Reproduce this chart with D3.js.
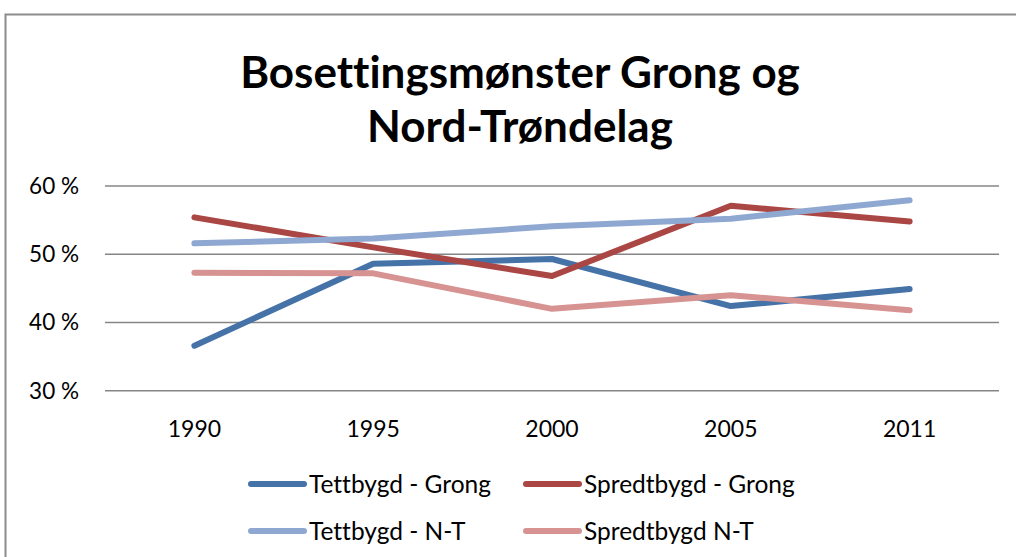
<!DOCTYPE html>
<html>
<head>
<meta charset="utf-8">
<script src="https://cdn.jsdelivr.net/npm/d3@7"></script>
<style>
  body { margin: 0; background: #fff; }
  text { font-family: Lato, "Open Sans", sans-serif; fill: #000; font-variant-ligatures: none; }
</style>
</head>
<body>
<svg width="1016" height="557"></svg>
<script>
var years = ["1990", "1995", "2000", "2005", "2011"];
var tettGrong = [36.6, 48.6, 49.3, 42.4, 44.9];
var spredtGrong = [55.4, 51.0, 46.8, 57.1, 54.8];
var tettNT = [51.6, 52.3, 54.1, 55.2, 57.9];
var spredtNT = [47.3, 47.2, 42.0, 44.0, 41.8];
var yTicks = [30, 40, 50, 60];
var seriesNames = ["Tettbygd - Grong", "Spredtbygd - Grong", "Tettbygd - N-T", "Spredtbygd N-T"];
var colors = ["#4572A7", "#AA4643", "#8FA8D1", "#D69391"];

var svg = d3.select("svg");

// chart frame (runs off the right and bottom edge)
svg.append("rect")
  .attr("x", 5.5).attr("y", 14.5)
  .attr("width", 1040).attr("height", 600)
  .attr("fill", "none").attr("stroke", "#8c8c8c").attr("stroke-width", 2);

// title
var title = svg.append("text")
  .attr("text-anchor", "middle")
  .style("font-weight", "bold")
  .style("font-size", "44px");
title.append("tspan").attr("x", 520).attr("y", 88).text("Bosettingsmønster Grong og");
title.append("tspan").attr("x", 520).attr("y", 142).text("Nord-Trøndelag");

var x = d3.scaleBand().domain(years).range([105, 999]);
var y = d3.scaleLinear().domain([30, 60]).range([390.7, 186]);

// gridlines
svg.append("g").selectAll("line")
  .data(yTicks).enter()
  .append("line")
  .attr("x1", 105).attr("x2", 999)
  .attr("y1", function(d) { return y(d) }).attr("y2", function(d) { return y(d) })
  .attr("stroke", "#868686").attr("stroke-width", 1.5);

// y labels
svg.append("g").selectAll("text")
  .data(yTicks).enter()
  .append("text")
  .attr("x", 79).attr("y", function(d) { return y(d) + 8 })
  .attr("text-anchor", "end")
  .style("font-size", "22.5px")
  .text(function(d) { return d + " %" });

// x labels
svg.append("g").selectAll("text")
  .data(years).enter()
  .append("text")
  .attr("x", function(d) { return x(d) + x.bandwidth() / 2 })
  .attr("y", 437)
  .attr("text-anchor", "middle")
  .style("font-size", "23px")
  .text(function(d) { return d });

var series = [tettGrong, spredtGrong, tettNT, spredtNT];
var line = d3.line()
  .x(function(d, i) { return x(years[i]) + x.bandwidth() / 2 })
  .y(function(d) { return y(d) });

// draw so that order matches the picture
[0, 1, 3, 2].forEach(function(k) {
  svg.append("path")
    .attr("d", line(series[k]))
    .attr("fill", "none")
    .attr("stroke", colors[k])
    .attr("stroke-width", 6)
    .attr("stroke-linecap", "round")
    .attr("stroke-linejoin", "round");
});

// legend
var legX = [251, 526];
var legY = [484, 531];
seriesNames.forEach(function(name, i) {
  var lx = legX[i % 2], ly = legY[Math.floor(i / 2)];
  svg.append("line")
    .attr("x1", lx).attr("x2", lx + 53)
    .attr("y1", ly).attr("y2", ly)
    .attr("stroke", colors[i]).attr("stroke-width", 6)
    .attr("stroke-linecap", "round");
  svg.append("text")
    .attr("x", lx + 58).attr("y", ly + 9)
    .style("font-size", "24.5px")
    .text(name);
});
</script>
</body>
</html>
